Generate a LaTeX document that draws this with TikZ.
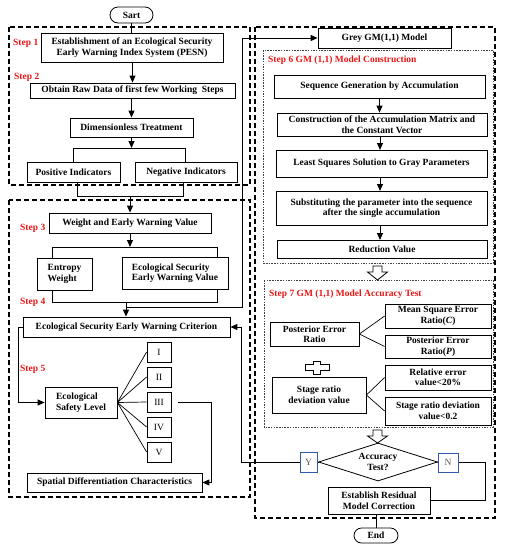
\documentclass[tikz,border=0pt]{standalone}
\usepackage{fontspec}
\setmainfont{Liberation Serif}
\usetikzlibrary{shapes.geometric,arrows.meta,calc}
\definecolor{stepred}{RGB}{235,20,20}
\definecolor{ynblue}{RGB}{50,90,170}
\begin{document}
\begin{tikzpicture}[x=1pt,y=-1pt,
 box/.style={draw, line width=0.8pt, fill=white, font=\bfseries\fontsize{9.5}{10.5}\selectfont, align=center, inner sep=1pt},
 conn/.style={line width=1pt},
 arr/.style={conn, -{Triangle[length=7pt,width=6pt]}},
 outerbox/.style={line width=1.2pt, dash pattern=on 5pt off 3pt},
 dotbox/.style={line width=0.6pt, dash pattern=on 1.5pt off 1.2pt, draw=black!75},
 steplbl/.style={font=\bfseries\fontsize{9.5}{10.5}\selectfont, text=stepred, anchor=west, inner sep=0pt},
 ynbox/.style={draw=ynblue, line width=1pt, fill=white, font=\fontsize{9.5}{10}\selectfont, text=black!65, inner sep=0pt},
 hollow/.style={line width=0.8pt, fill=white}
]
\useasboundingbox (0,0) rectangle (505,550);

% outer dashed frames
\draw[outerbox] (9,27) rectangle (250,185);
\draw[outerbox] (9,200) rectangle (250,497);
\draw[outerbox] (255,27) rectangle (495,518);
\draw[dotbox] (263,50) rectangle (493,263);
\draw[dotbox] (264,280) rectangle (493,427);

% step labels
\node[steplbl] (l1) at (13,43) {Step 1};
\node[steplbl] (l2) at (14,77) {Step 2};
\node[steplbl] (l3) at (20,228) {Step 3};
\node[steplbl] (l4) at (20,302) {Step 4};
\node[steplbl] (l5) at (20,369) {Step 5};
\node[steplbl] (l6) at (268,60) {Step 6 GM (1,1) Model Construction};
\node[steplbl] (l7) at (269,294) {Step 7 GM (1,1) Model Accuracy Test};

% left column
\node[box, rounded corners=8pt, minimum width=43pt, minimum height=16pt] (sart) at (131.5,15) {Sart};
\node[box, minimum width=182pt, minimum height=29pt] (s1) at (132,47.5) {Establishment of an Ecological Security\\Early Warning Index System (PESN)};
\node[box, minimum width=205pt, minimum height=15pt] (s2) at (132.5,90.5) {Obtain Raw Data of first few Working\ \ Steps};
\node[box, minimum width=123pt, minimum height=19pt] (dim) at (131.5,127.5) {Dimensionless Treatment};
\node[box, minimum width=93pt, minimum height=20pt] (pos) at (73.5,172) {Positive Indicators};
\node[box, minimum width=102pt, minimum height=20pt] (neg) at (186,172) {Negative Indicators};
\node[box, minimum width=162pt, minimum height=20pt] (wt) at (130,223) {Weight and Early Warning Value};
\node[box, align=left, minimum width=55pt, minimum height=32pt] (ent) at (64.5,274) {Entropy\\Weight};
\node[box, align=left, minimum width=106pt, minimum height=32pt] (esv) at (175,273) {Ecological Security\\Early Warning Value};
\node[box, minimum width=207pt, minimum height=20pt] (crit) at (126.5,327) {Ecological Security Early Warning Criterion};
\node[box, align=left, minimum width=72pt, minimum height=31pt] (esl) at (81,402.5) {Ecological\\Safety Level};
\node[box, font=\fontsize{9.5}{10}\selectfont, minimum width=24pt, minimum height=20pt] (r1) at (159,352) {I};
\node[box, font=\fontsize{9.5}{10}\selectfont, minimum width=24pt, minimum height=20pt] (r2) at (159,377) {II};
\node[box, font=\fontsize{9.5}{10}\selectfont, minimum width=24pt, minimum height=20pt] (r3) at (159,402) {III};
\node[box, font=\fontsize{9.5}{10}\selectfont, minimum width=24pt, minimum height=20pt] (r4) at (159,427) {IV};
\node[box, font=\fontsize{9.5}{10}\selectfont, minimum width=24pt, minimum height=20pt] (r5) at (159,452) {V};
\node[box, minimum width=175pt, minimum height=19pt] (spa) at (114.5,482.5) {Spatial Differentiation Characteristics};

% right column
\node[box, minimum width=133pt, minimum height=20pt] (grey) at (384.5,38) {Grey GM(1,1) Model};
\node[box, minimum width=211pt, minimum height=23pt] (seq) at (379.5,86.5) {Sequence Generation by Accumulation};
\node[box, minimum width=210pt, minimum height=23pt] (cons) at (382,124.5) {Construction of the Accumulation Matrix and\\the Constant Vector};
\node[box, minimum width=211pt, minimum height=27pt] (lsq) at (381.5,163.5) {Least Squares Solution to Gray Parameters};
\node[box, minimum width=211pt, minimum height=34pt] (sub) at (381.5,208) {Substituting the parameter into the sequence\\after the single accumulation};
\node[box, minimum width=210pt, minimum height=18pt] (red) at (382,249) {Reduction Value};

\node[box, minimum width=89pt, minimum height=24pt] (per) at (314.5,334) {Posterior Error\\Ratio};
\node[box, minimum width=106pt, minimum height=24pt] (msr) at (438,316) {Mean Square Error\\Ratio(\textit{C})};
\node[box, minimum width=106pt, minimum height=23pt] (perp) at (438,346.5) {Posterior Error\\Ratio(\textit{P})};
\node[box, minimum width=94pt, minimum height=36pt] (srdv) at (319,395) {Stage ratio\\deviation value};
\node[box, minimum width=106pt, minimum height=25pt] (rel) at (438,377.5) {Relative error\\value<20\%};
\node[box, minimum width=106pt, minimum height=28pt] (srd) at (438,411) {Stage ratio deviation\\value<0.2};

\node[box, diamond, aspect=3.1, inner sep=0pt, minimum width=119pt, minimum height=38pt] (acc) at (378,462) {Accuracy\\Test?};
\node[ynbox, minimum width=17pt, minimum height=20pt] (yb) at (308.5,462) {Y};
\node[ynbox, minimum width=20pt, minimum height=19pt] (nb) at (448,462.5) {N};
\node[box, minimum width=102pt, minimum height=27pt] (est) at (379,500.5) {Establish Residual\\Model Correction};
\node[box, rounded corners=7.5pt, minimum width=44pt, minimum height=15pt] (endn) at (376,535.5) {End};

% hollow arrows and plus
\draw[hollow] (373,266) -- (382,266) -- (382,272) -- (387.5,272) -- (377.5,280) -- (367.5,272) -- (373,272) -- cycle;
\draw[hollow] (373,430) -- (382,430) -- (382,436) -- (387.5,436) -- (377.5,443) -- (367.5,436) -- (373,436) -- cycle;
\draw[hollow] (313.5,361) -- (320.5,361) -- (320.5,364.5) -- (329,364.5) -- (329,370.5) -- (320.5,370.5) -- (320.5,374) -- (313.5,374) -- (313.5,370.5) -- (305,370.5) -- (305,364.5) -- (313.5,364.5) -- cycle;

% left connectors
\draw[conn] (sart.south) -- (sart.south |- s1.north);
\draw[arr] (s1.south -| s2.north) -- (s2.north);
\draw[arr] (s2.south -| dim.north) -- (dim.north);
\coordinate (b1) at (131.5,148);
\draw[arr] (dim.south) -- (b1);
\draw[conn] (73,162) -- (73,148) -- (185,148) -- (185,162);
\draw[conn] (77,182) -- (77,196) -- (183,196) -- (183,182);
\coordinate (b2) at (130,196);
\draw[arr] (b2) -- (wt.north);
\coordinate (b3) at (130,247);
\draw[arr] (wt.south) -- (b3);
\draw[conn] (52,258) -- (52,247) -- (217,247) -- (217,257);
\draw[conn] (52,290) -- (52,302) -- (217,302) -- (217,289);
\coordinate (b4) at (126,302);
\draw[arr] (b4) -- (b4 |- crit.north);
\draw[arr] (126,307) -- (242,307) -- (242,38) -- (grey.west);
\draw[arr] (crit.west) -- (18,327) -- (18,402.5) -- (esl.west);
\foreach \r in {r1,r2,r3,r4,r5} \draw[line width=0.7pt] (esl.east) -- (\r.west);
\coordinate (c3) at (178,402);
\draw[arr] (c3) -- (211,402) -- (211,482.5) -- (spa.east);

% right connectors
\draw[arr] (seq.south) -- (seq.south |- cons.north);
\draw[arr] (cons.south -| 380,0) -- (380,150);
\draw[arr] (lsq.south -| 380,0) -- (380,191);
\draw[arr] (sub.south -| 380,0) -- (380,240);
\draw[line width=0.7pt] (per.east) -- (msr.west);
\draw[line width=0.7pt] (per.east) -- (perp.west);
\draw[line width=0.7pt] (srdv.east) -- (rel.west);
\draw[line width=0.7pt] (srdv.east) -- (srd.west);
\draw[conn] (acc.west) -- (yb.east);
\draw[conn] (acc.east) -- (nb.west);
\draw[arr] (yb.west) -- (241,462) -- (241,327) -- (crit.east);
\draw[conn] (nb.east) -- (485,462.5) -- (485,500.5) -- (est.east);
\draw[conn] (est.south -| endn.north) -- (endn.north);
\end{tikzpicture}
\end{document}
